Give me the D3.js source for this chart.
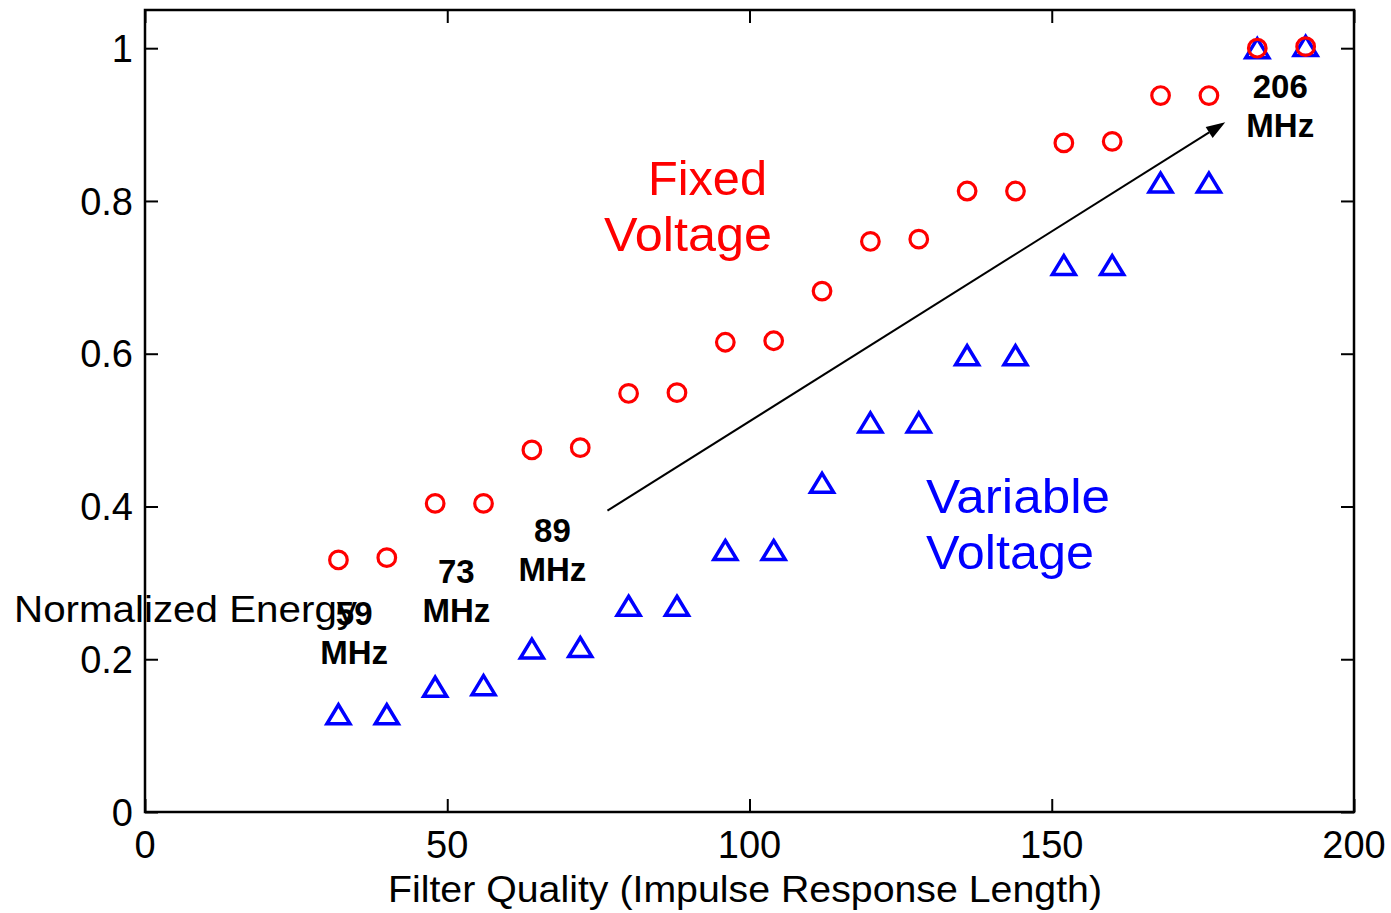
<!DOCTYPE html>
<html>
<head>
<meta charset="utf-8">
<script src="https://cdn.jsdelivr.net/npm/d3@7"></script>
<style>
  html, body { margin: 0; padding: 0; background: #fff; }
  svg { display: block; font-family: "Liberation Sans", Arial, Helvetica, sans-serif; }
</style>
</head>
<body>
<svg id="chart" width="1391" height="913"></svg>
<script>
// Impulse response length of each filter
const filterLength = [32, 40, 48, 56, 64, 72, 80, 88, 96, 104, 112, 120, 128, 136, 144, 152, 160, 168, 176, 184, 192];
// Normalized energy, fixed supply voltage
const fixedVoltage = [0.330, 0.333, 0.404, 0.404, 0.474, 0.477, 0.548, 0.549, 0.615, 0.617, 0.682,
                      0.747, 0.750, 0.813, 0.813, 0.876, 0.878, 0.938, 0.938, 1.000, 1.002];
// Normalized energy, variable supply voltage
const variableVoltage = [0.128, 0.128, 0.164, 0.166, 0.214, 0.216, 0.270, 0.270, 0.343, 0.343, 0.431,
                         0.510, 0.510, 0.598, 0.598, 0.716, 0.716, 0.824, 0.824, 1.000, 1.003];
// Axis ticks
const xTicks = [0, 50, 100, 150, 200];
const yTicks = [0, 0.2, 0.4, 0.6, 0.8, 1];
const yTickLabels = ["0", "0.2", "0.4", "0.6", "0.8", "1"];
// Clock frequency callouts: [x, y, first line, second line]
const freqLabels = [
  [34.6, 0.245, "59", "MHz"],
  [51.5, 0.300, "73", "MHz"],
  [67.4, 0.354, "89", "MHz"],
  [187.8, 0.935, "206", "MHz"]
];

const svg = d3.select("#chart");
const plotLeft = 145, plotRight = 1354, plotTop = 10, plotBottom = 812;

const x = d3.scaleLinear().domain([0, 200]).range([plotLeft, plotRight]);
const y = d3.scaleLinear().domain([0, 1.05]).range([plotBottom, plotTop]);

// Plot box
svg.append("rect")
  .attr("x", plotLeft).attr("y", plotTop)
  .attr("width", plotRight - plotLeft).attr("height", plotBottom - plotTop)
  .attr("fill", "none").attr("stroke", "#000").attr("stroke-width", 2.5);

// Inward ticks on all four sides
const tickLen = 13;
const axisStyle = g => {
  g.select(".domain").remove();
  g.selectAll(".tick line").attr("stroke", "#000").attr("stroke-width", 2);
};
svg.append("g").attr("transform", `translate(0,${plotBottom})`)
  .call(d3.axisBottom(x).tickValues(xTicks).tickSize(-tickLen).tickFormat(""))
  .call(axisStyle);
svg.append("g").attr("transform", `translate(0,${plotTop})`)
  .call(d3.axisTop(x).tickValues(xTicks).tickSize(-tickLen).tickFormat(""))
  .call(axisStyle);
svg.append("g").attr("transform", `translate(${plotLeft},0)`)
  .call(d3.axisLeft(y).tickValues(yTicks).tickSize(-tickLen).tickFormat(""))
  .call(axisStyle);
svg.append("g").attr("transform", `translate(${plotRight},0)`)
  .call(d3.axisRight(y).tickValues(yTicks).tickSize(-tickLen).tickFormat(""))
  .call(axisStyle);

// Tick labels
svg.append("g").selectAll("text").data(xTicks).join("text")
  .attr("x", d => x(d)).attr("y", 858)
  .attr("text-anchor", "middle")
  .attr("font-size", 38)
  .text(d => d);
svg.append("g").selectAll("text").data(yTicks).join("text")
  .attr("x", plotLeft - 12).attr("y", d => y(d))
  .attr("dy", "0.36em")
  .attr("text-anchor", "end")
  .attr("font-size", 38)
  .text((d, i) => yTickLabels[i]);

// Axis titles
svg.append("text")
  .attr("x", 745).attr("y", 902)
  .attr("text-anchor", "middle")
  .attr("font-size", 37)
  .attr("textLength", 714).attr("lengthAdjust", "spacingAndGlyphs")
  .text("Filter Quality (Impulse Response Length)");
svg.append("text")
  .attr("x", 14).attr("y", 622)
  .attr("font-size", 37)
  .attr("textLength", 343).attr("lengthAdjust", "spacingAndGlyphs")
  .text("Normalized Energy");

// Trend arrow
const a0 = [x(76.5), y(0.3945)], a1 = [x(178.7), y(0.903)];
const ang = Math.atan2(a1[1] - a0[1], a1[0] - a0[0]);
const headL = 19, headW = 6.5;
const base = [a1[0] - headL * Math.cos(ang), a1[1] - headL * Math.sin(ang)];
svg.append("line")
  .attr("x1", a0[0]).attr("y1", a0[1]).attr("x2", base[0]).attr("y2", base[1])
  .attr("stroke", "#000").attr("stroke-width", 2);
svg.append("path")
  .attr("d", d3.line()([
    a1,
    [base[0] + headW * Math.sin(ang), base[1] - headW * Math.cos(ang)],
    [base[0] - headW * Math.sin(ang), base[1] + headW * Math.cos(ang)]
  ]) + "Z")
  .attr("fill", "#000");

// Variable voltage series (triangles)
const tri = "M0,-9.5L11.5,9.5L-11.5,9.5Z";
svg.append("g").selectAll("path").data(filterLength).join("path")
  .attr("transform", (d, i) => `translate(${x(d)},${y(variableVoltage[i])})`)
  .attr("d", tri)
  .attr("fill", "none").attr("stroke", "#0000ff").attr("stroke-width", 3.5)
  .attr("stroke-linejoin", "miter");

// Fixed voltage series (circles)
svg.append("g").selectAll("circle").data(filterLength).join("circle")
  .attr("cx", d => x(d)).attr("cy", (d, i) => y(fixedVoltage[i]))
  .attr("r", 8.8)
  .attr("fill", "none").attr("stroke", "#ff0000").attr("stroke-width", 3.2);

// Series labels
const seriesLabel = (color, size, lines) => {
  const t = svg.append("text").attr("fill", color).attr("font-size", size);
  lines.forEach(([lx, ly, len, s]) => {
    t.append("tspan").attr("x", lx).attr("y", ly)
      .attr("textLength", len).attr("lengthAdjust", "spacingAndGlyphs")
      .text(s);
  });
};
seriesLabel("#ff0000", 49, [[648, 195, 119, "Fixed"], [604, 251, 168, "Voltage"]]);
seriesLabel("#0000ff", 49, [[926, 513, 184, "Variable"], [926, 569, 168, "Voltage"]]);

// Clock frequency callouts
freqLabels.forEach(([fx, fy, l1, l2]) => {
  const t = svg.append("text")
    .attr("font-size", 33).attr("font-weight", "bold")
    .attr("text-anchor", "middle");
  t.append("tspan").attr("x", x(fx)).attr("y", y(fy)).text(l1);
  t.append("tspan").attr("x", x(fx)).attr("dy", 39).text(l2);
});
</script>
</body>
</html>
